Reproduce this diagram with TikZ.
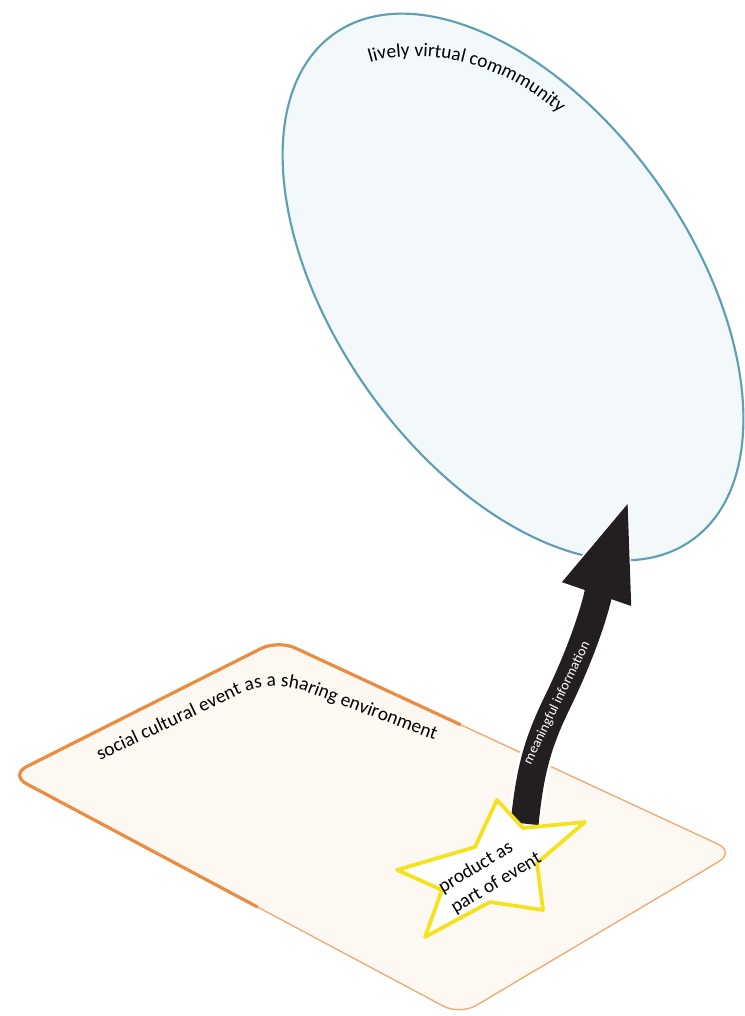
\documentclass[tikz,border=0pt]{standalone}
\usepackage{fontspec}
\setmainfont{Carlito}
\usepackage{tikz}
\usetikzlibrary{arrows.meta,calc,shapes.geometric,decorations.text}
\definecolor{cvSky}{HTML}{F3F8FB}
\definecolor{cvTeal}{HTML}{5E9FB3}
\definecolor{cvPeach}{HTML}{FEF8F3}
\definecolor{cvOrange}{HTML}{EA8C42}
\definecolor{cvYellow}{HTML}{F6E21C}
\definecolor{cvInk}{HTML}{231F20}
\pgfdeclarelayer{front}
\pgfsetlayers{main,front}

\begin{document}
\begin{tikzpicture}[
    x=0.75pt, y=-0.75pt,
    txt/.style={font=\fontsize{14.5}{18}\selectfont},
    cloud/.style={ellipse, draw=cvTeal, line width=1.6pt, fill=cvSky,
                  minimum width=465pt, minimum height=267pt, inner sep=0pt},
    planeedge/.style={draw=cvOrange, rounded corners=14pt},
    starline/.style={draw=cvYellow, line width=2.8pt, fill=white, line join=round},
    arr/.style={-{Triangle[width=48pt,length=77pt]}, line width=21pt, cvInk,
                preaction={draw=white, line width=25pt, -{Triangle[width=56pt,length=83pt]}}}
  ]
    \useasboundingbox (0,0) rectangle (744,1016);

    % Event plane
    \coordinate (pl) at (10,775);
    \coordinate (pt) at (278,640);
    \coordinate (pr) at (735,852);
    \coordinate (pb) at (460,1015);
    \fill[cvPeach, rounded corners=14pt] (pl) -- (pt) -- (pr) -- (pb) -- cycle;
    \draw[planeedge, line width=1pt, draw=cvOrange!75] (pl) -- (pt) -- (pr) -- (pb) -- cycle;
    \draw[planeedge, line width=2.4pt] ($(pl)!0.55!(pb)$) -- (pl) -- (pt) -- ($(pt)!0.4!(pr)$);
    \path[decorate, rounded corners=25pt, decoration={text along path, text align=center,
        text={|\fontsize{14.5}{18}\selectfont|social cultural event as a sharing environment}}]
      (95,763) -- (272,679) -- (440,742);

    % Community ellipse
    \node[cloud, rotate=-54.8] (community) at (513,287) {};
    \path[decorate, decoration={text along path, text align=center,
        text={|\fontsize{14.5}{18}\selectfont|lively virtual commmunity}}]
      (360,66) .. controls (410,45) and (500,55) .. (567,121);

    % Star on top of the arrow
    \begin{pgfonlayer}{front}
      \draw[starline] (497,800) -- (523,828) -- (585,822) -- (537,863) -- (543,910)
        -- (490,902) -- (425,937) -- (442,890) -- (397,870) -- (475,847) -- cycle;
      \node[txt, rotate=31, align=left, inner sep=3pt] (product) at (490,873)
        {product as\\part of event};
    \end{pgfonlayer}

    % Arrow up to the community
    \coordinate (bend) at (557,703);
    \coordinate (infotip) at (630,497);
    \draw[arr] (product.north east) to[out=84, in=244]
      node[sloped, pos=1, text=white, font=\fontsize{10.5}{12}\selectfont] (info)
      {meaningful information}
      (bend) to[out=64, in=251] (infotip);
  \end{tikzpicture}
\end{document}
